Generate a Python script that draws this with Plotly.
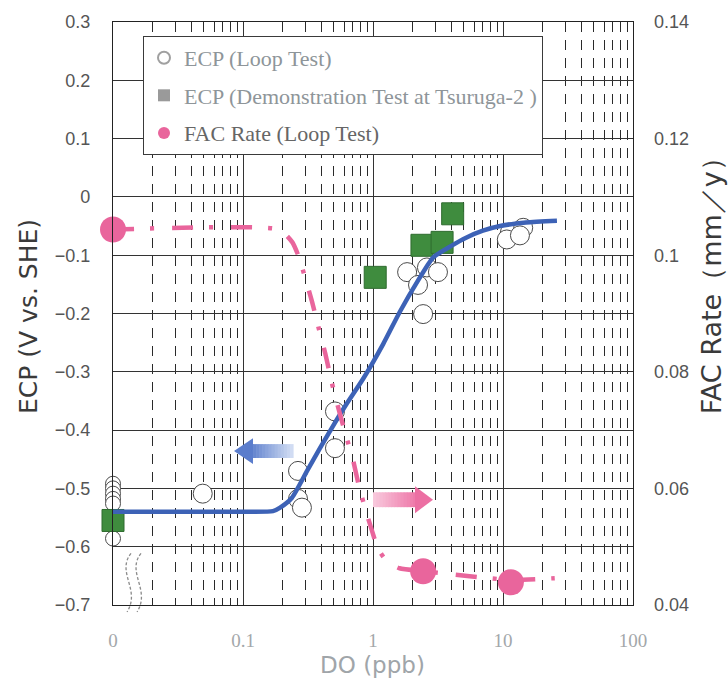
import plotly.graph_objects as go

# ---------------- data ----------------
# ECP loop test (open circles); DO = 0.01 stands for the "0" position
loop0_do = [0.01, 0.01, 0.01, 0.01, 0.01, 0.01]
loop0_ecp = [-0.492, -0.500, -0.509, -0.518, -0.526, -0.586]
loop_do = [0.049, 0.265, 0.265, 0.284, 0.51, 0.51, 1.83, 2.22, 2.6, 3.16, 2.43, 11.3, 14.3, 10.7, 13.5]
loop_ecp = [-0.509, -0.470, -0.518, -0.533, -0.368, -0.431, -0.129, -0.151, -0.121, -0.129, -0.201,
            -0.061, -0.053, -0.073, -0.066]

# ECP demonstration test at Tsuruga-2 (green squares)
tsu_do = [0.01, 1.04, 2.38, 3.4, 4.1]
tsu_ecp = [-0.555, -0.138, -0.083, -0.078, -0.029]

# ECP fitted curve (blue)
fit_do = [0.01, 0.1, 0.17, 0.193, 0.238, 0.311, 0.391, 0.492, 0.631, 0.84, 1.2, 1.61, 2.2, 2.9,
          4.0, 5.2, 7.0, 9.5, 15, 26]
fit_ecp = [-0.54, -0.54, -0.539, -0.533, -0.516, -0.470, -0.431, -0.393, -0.354, -0.312, -0.252,
           -0.197, -0.145, -0.104, -0.084, -0.070, -0.058, -0.050, -0.044, -0.041]

# FAC rate loop test (pink circles) and trend (pink dash-dot)
fac_do = [0.01, 2.43, 11.5]
fac_rate = [0.1044, 0.0458, 0.0439]
facl_do = [0.01, 0.19, 0.24, 0.27, 0.30, 0.34, 0.38, 0.43, 0.48, 0.55, 0.62, 0.70, 0.78, 0.88,
           0.98, 1.09, 1.30, 1.60, 2.43, 11.5, 25]
facl_rate = [0.1044, 0.1044, 0.1022, 0.0996, 0.0962, 0.0920, 0.0877, 0.0831, 0.0783, 0.0732,
             0.0690, 0.0650, 0.0604, 0.0562, 0.0528, 0.0497, 0.0473, 0.0463, 0.0458, 0.0443, 0.0446]

x_tickvals = [0.01, 0.1, 1, 10, 100]
x_ticktext = ["0", "0.1", "1", "10", "100"]
y_tickvals = [0.3, 0.2, 0.1, 0, -0.1, -0.2, -0.3, -0.4, -0.5, -0.6, -0.7]
y_ticktext = ["0.3", "0.2", "0.1", "0", "\u22120.1", "\u22120.2", "\u22120.3", "\u22120.4",
              "\u22120.5", "\u22120.6", "\u22120.7"]
y2_tickvals = [0.14, 0.12, 0.10, 0.08, 0.06, 0.04]
y2_ticktext = ["0.14", "0.12", "0.1", "0.08", "0.06", "0.04"]
minor_vals = [m * 10 ** e for e in range(-2, 2) for m in range(2, 10)]

# ---------------- geometry helpers (decorations only) ----------------
W, H = 728, 687
ML, MR, MT, MB = 113, 95, 18, 82
PW, PH = W - ML - MR, H - MT - MB


def px(x):
    return (x - ML) / PW


def py(y):
    return (H - MB - y) / PH


def hexmix(c1, c2, t):
    a = [int(c1[i:i + 2], 16) for i in (1, 3, 5)]
    b = [int(c2[i:i + 2], 16) for i in (1, 3, 5)]
    return "#" + "".join(f"{round(a[k] + (b[k] - a[k]) * t):02x}" for k in range(3))


def grad_arrow(bx0, bx1, yc, bh, hbase, tip, hh, c0, c1, headc, n=14):
    shp = []
    for i in range(n):
        xa = bx0 + (bx1 - bx0) * i / n
        xb = bx0 + (bx1 - bx0) * (i + 1) / n + 0.6
        shp.append(dict(type="rect", xref="paper", yref="paper", x0=px(xa), x1=px(xb),
                        y0=py(yc + bh), y1=py(yc - bh), fillcolor=hexmix(c0, c1, (i + 0.5) / n),
                        line=dict(width=0), layer="above"))
    shp.append(dict(type="path", xref="paper", yref="paper",
                    path=f"M {px(hbase)},{py(yc - hh)} L {px(tip)},{py(yc)} L {px(hbase)},{py(yc + hh)} Z",
                    fillcolor=headc, line=dict(width=0), layer="above"))
    return shp


shapes = []
shapes += grad_arrow(250, 293, 450, 7, 253, 234, 13, "#5b7dcc", "#d5e0f4", "#5b7dcc")
shapes += grad_arrow(373, 416, 499, 7.5, 415, 433, 13.5, "#f8cadd", "#ee78a9", "#ec6fa3")
for dx in (0, 10):
    shapes.append(dict(type="path", xref="paper", yref="paper",
                       path=(f"M {px(131 + dx)},{py(553)} C {px(116 + dx)},{py(572)} "
                             f"{px(141 + dx)},{py(590)} {px(127 + dx)},{py(612)}"),
                       line=dict(color="#8a8a8a", width=1.3, dash="3px,2px"), layer="above"))

# ---------------- figure ----------------
fig = go.Figure()

# legend-only entries
fig.add_trace(go.Scatter(x=[None], y=[None], mode="markers", name="ECP (Loop Test)",
                         marker=dict(symbol="circle", color="white", line=dict(color="#a0a0a0", width=1.2)),
                         legendgroup="a", legendrank=1))
fig.add_trace(go.Scatter(x=[None], y=[None], mode="markers",
                         name="ECP (Demonstration Test at Tsuruga-2 )",
                         marker=dict(symbol="square", color="#9a9a9a"), legendgroup="b", legendrank=2))

circ = dict(symbol="circle", color="white", line=dict(color="#4a4a4a", width=1))
fig.add_trace(go.Scatter(x=loop0_do, y=loop0_ecp, mode="markers", showlegend=False,
                         marker=dict(size=15, **circ), cliponaxis=False))
fig.add_trace(go.Scatter(x=loop_do, y=loop_ecp, mode="markers", showlegend=False,
                         marker=dict(size=19, **circ), cliponaxis=False))
fig.add_trace(go.Scatter(x=tsu_do, y=tsu_ecp, mode="markers", showlegend=False,
                         marker=dict(symbol="square", size=22, color="#3f8c3e",
                                     line=dict(color="#2f6b2f", width=1)), cliponaxis=False))
fig.add_trace(go.Scatter(x=fit_do, y=fit_ecp, mode="lines", showlegend=False,
                         line=dict(color="#3d62b6", width=4.5, shape="spline", smoothing=0.6),
                         cliponaxis=False))
fig.add_trace(go.Scatter(x=facl_do, y=facl_rate, yaxis="y2", mode="lines", showlegend=False,
                         line=dict(color="#e9659c", width=4.5, dash="21px,16px,4px,18px",
                                   shape="spline", smoothing=0.5), cliponaxis=False))
fig.add_trace(go.Scatter(x=fac_do, y=fac_rate, yaxis="y2", mode="markers",
                         name="<span style='color:#666666'>FAC Rate (Loop Test)</span>",
                         marker=dict(symbol="circle", size=26, color="#e9659c"),
                         legendgroup="c", legendrank=3, cliponaxis=False))

annotations = [
    dict(text="ECP (V vs. SHE)", xref="paper", yref="paper", x=px(29), y=py(315),
         showarrow=False, textangle=-90, xanchor="center", yanchor="middle",
         font=dict(family="DejaVu Sans", size=25, color="#3a3a3a")),
    dict(text="FAC Rate\uff08mm\uff0fy\uff09", xref="paper", yref="paper", x=px(711), y=py(277),
         showarrow=False, textangle=-90, xanchor="center", yanchor="middle",
         font=dict(family="DejaVu Sans", size=27, color="#3a3a3a")),
    dict(text="DO (ppb)", xref="paper", yref="paper", x=px(372), y=py(665),
         showarrow=False, xanchor="center", yanchor="middle",
         font=dict(family="DejaVu Sans", size=23, color="#a0a5a9")),
]

fig.update_layout(
    width=W, height=H,
    margin=dict(l=ML, r=MR, t=MT, b=MB, pad=0),
    paper_bgcolor="white", plot_bgcolor="white",
    showlegend=True,
    legend=dict(x=px(143), y=py(32), xanchor="left", yanchor="top",
                bgcolor="white", bordercolor="#3a3a3a", borderwidth=1,
                font=dict(family="Liberation Serif", size=22, color="#8e9599"),
                itemsizing="constant", tracegroupgap=6, traceorder="grouped"),
    xaxis=dict(type="log", range=[-2, 2], tickmode="array", tickvals=x_tickvals, ticktext=x_ticktext,
               tickfont=dict(family="Liberation Serif", size=19, color="#a3a7aa"),
               ticks="", ticklabelstandoff=18,
               showgrid=True, gridcolor="#333333", gridwidth=1,
               showline=True, linecolor="#222222", linewidth=1.2, mirror=True, zeroline=False,
               minor=dict(tickmode="array", tickvals=minor_vals, showgrid=True, gridcolor="#2a2a2a",
                          gridwidth=1.4, griddash="10px,8px", ticks="")),
    yaxis=dict(range=[-0.7, 0.3], tickmode="array", tickvals=y_tickvals, ticktext=y_ticktext,
               tickfont=dict(family="Liberation Sans", size=18, color="#555555"),
               ticks="", ticklabelstandoff=18,
               showgrid=True, gridcolor="#333333", gridwidth=1,
               showline=True, linecolor="#222222", linewidth=1.2, mirror=True, zeroline=False),
    yaxis2=dict(range=[0.04, 0.14], overlaying="y", side="right", tickmode="array",
                tickvals=y2_tickvals, ticktext=y2_ticktext,
                tickfont=dict(family="Liberation Sans", size=18, color="#555555"),
                ticks="", ticklabelstandoff=20, showgrid=False, zeroline=False, showline=False),
    shapes=shapes,
    annotations=annotations,
)

fig.write_html("out.html")
